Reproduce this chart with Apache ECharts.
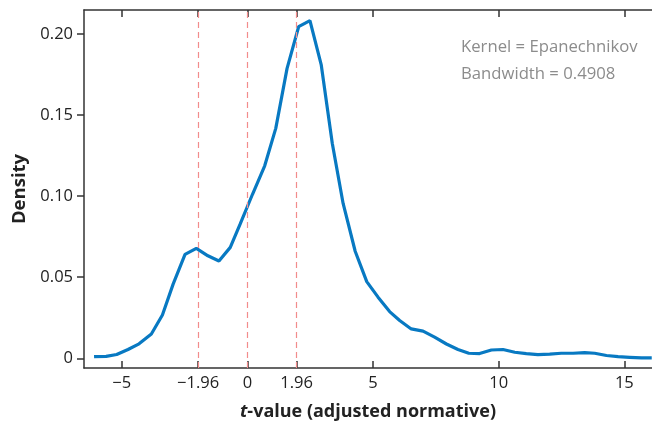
<!DOCTYPE html>
<html>
<head>
<meta charset="utf-8">
<script src="https://cdn.jsdelivr.net/npm/echarts@6/dist/echarts.min.js"></script>
<style>
    html, body { margin: 0; padding: 0; background: #fff; }
    #chart { width: 652px; height: 425px; }
</style>
</head>
<body>
<div id="chart"></div>
<script>
'use strict';

// kernel density estimate
var tValues = [-6.10, -5.62, -5.20, -4.75, -4.31, -3.82, -3.38, -2.95, -2.48, -2.03,
    -1.57, -1.13, -0.68, -0.28, 0.20, 0.69, 1.13, 1.58, 2.04, 2.49,
    2.94, 3.38, 3.81, 4.29, 4.75, 5.20, 5.66, 6.06, 6.52, 6.99,
    7.45, 7.92, 8.38, 8.81, 9.24, 9.71, 10.17, 10.64, 11.10, 11.56,
    12.03, 12.49, 12.96, 13.42, 13.82, 14.29, 14.75, 15.21, 15.68, 16.09];
var density = [0.0010, 0.0012, 0.0023, 0.0054, 0.0089, 0.0150, 0.0267, 0.0459, 0.0641, 0.0678,
    0.0632, 0.0600, 0.0684, 0.0830, 0.1010, 0.1187, 0.1418, 0.1788, 0.2045, 0.2082,
    0.1809, 0.1325, 0.0955, 0.0660, 0.0473, 0.0377, 0.0288, 0.0233, 0.0181, 0.0167,
    0.0130, 0.0088, 0.0054, 0.0031, 0.0029, 0.0051, 0.0054, 0.0037, 0.0029, 0.0023,
    0.0025, 0.0031, 0.0031, 0.0035, 0.0031, 0.0017, 0.0010, 0.0006, 0.0002, 0.0002];

var xTicks = [-5, -1.96, 0, 1.96, 5, 10, 15];
var yTicks = [0, 0.05, 0.10, 0.15, 0.20];
var criticalValues = [-1.96, 0, 1.96];
var noteLines = ['Kernel = Epanechnikov', 'Bandwidth = 0.4908'];

var font = '"Open Sans", "Noto Sans", sans-serif';
var axisColor = '#333';

var chart = echarts.init(document.getElementById('chart'), null, {renderer: 'canvas'});

var points = [];
for (var i = 0; i < tValues.length; i++) {
    points.push([tValues[i], density[i]]);
}

var baseX = {
    type: 'value',
    min: -6.5,
    max: 16.1,
    splitLine: {show: false},
    axisLine: {show: true, onZero: false, lineStyle: {color: axisColor, width: 1.5}},
    axisTick: {show: true, inside: true, length: 7, customValues: xTicks, lineStyle: {color: axisColor, width: 1.5}}
};

var option = {
    animation: false,
    grid: {left: 84, top: 10, right: 0, bottom: 57, containLabel: false, outerBoundsMode: 'none'},
    xAxis: [
        echarts.util.merge({
            position: 'bottom',
            name: '{i|t}-value (adjusted normative)',
            nameLocation: 'middle',
            nameGap: 35,
            nameTextStyle: {
                fontFamily: font, fontSize: 18, fontWeight: 'bold', color: '#222',
                rich: {i: {fontFamily: font, fontSize: 18, fontWeight: 'bold', fontStyle: 'italic', color: '#222'}}
            },
            axisLabel: {
                customValues: xTicks,
                margin: 7,
                fontFamily: font,
                fontSize: 16.5,
                color: '#222',
                formatter: function (v) {
                    return String(v).replace('-', '\u2212');
                }
            }
        }, baseX, true),
        echarts.util.merge({
            position: 'top',
            axisLabel: {show: false}
        }, baseX, true)
    ],
    yAxis: {
        type: 'value',
        min: -0.006,
        max: 0.2148,
        name: 'Density',
        nameLocation: 'middle',
        nameGap: 55,
        nameTextStyle: {fontFamily: font, fontSize: 18.5, fontWeight: 'bold', color: '#222'},
        splitLine: {show: false},
        axisLine: {show: true, onZero: false, lineStyle: {color: axisColor, width: 1.5}},
        axisTick: {show: true, inside: false, length: 7, customValues: yTicks, lineStyle: {color: axisColor, width: 1.5}},
        axisLabel: {
            customValues: yTicks,
            margin: 11,
            fontFamily: font,
            fontSize: 16.5,
            color: '#222',
            formatter: function (v) {
                return v === 0 ? '0' : v.toFixed(2);
            }
        }
    },
    graphic: [
        {
            type: 'text',
            left: 461,
            top: 34,
            style: {
                text: noteLines.join('\n'),
                fontFamily: font,
                fontSize: 16.7,
                lineHeight: 27,
                fill: '#8c8c8c'
            }
        }
    ],
    series: [
        {
            name: 'density',
            type: 'line',
            data: points,
            showSymbol: false,
            smooth: false,
            lineStyle: {color: '#0879c2', width: 3.2},
            markLine: {
                silent: true,
                symbol: 'none',
                label: {show: false},
                lineStyle: {color: '#f28c8c', type: [6, 4], width: 1.2},
                data: criticalValues.map(function (v) { return {xAxis: v}; })
            }
        }
    ]
};

chart.setOption(option);
</script>
</body>
</html>
